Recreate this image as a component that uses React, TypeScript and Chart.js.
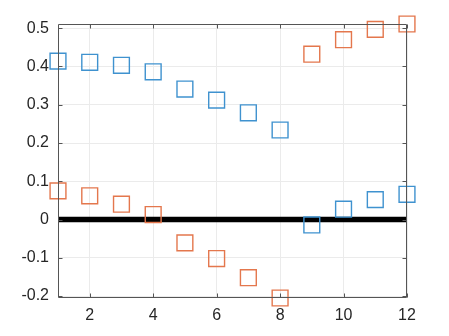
import React, { useEffect, useRef } from 'react';
import { Chart, registerables } from 'chart.js';

Chart.register(...registerables);

const xValues = [1, 2, 3, 4, 5, 6, 7, 8, 9, 10, 11, 12];
const seriesBlue = [0.414, 0.411, 0.403, 0.386, 0.341, 0.312, 0.279, 0.234, -0.014, 0.027, 0.052, 0.066];
const seriesOrange = [0.075, 0.062, 0.040, 0.013, -0.061, -0.102, -0.152, -0.205, 0.432, 0.470, 0.497, 0.511];
const zeroLineX = [1, 12];
const zeroLineY = [0, 0];
const xTicks = [2, 4, 6, 8, 10, 12];
const yTicks = [-0.2, -0.1, 0, 0.1, 0.2, 0.3, 0.4, 0.5];
const xLimits = [1, 12];
const yLimits = [-0.205, 0.511];

const BLUE = '#3f92cf';
const ORANGE = '#e4774d';
const AXIS = '#555555';
const GRID = '#ebebeb';
const FONT = { family: 'Liberation Sans', size: 16 };

const boxPlugin = {
  id: 'matlabBox',
  afterDatasetsDraw(chart: any) {
    const { ctx, chartArea } = chart;
    const { left, right, top, bottom } = chartArea;
    const xs = chart.scales.x;
    const ys = chart.scales.y;
    const tl = 4;
    ctx.save();
    ctx.strokeStyle = AXIS;
    ctx.lineWidth = 1;
    ctx.beginPath();
    const L = Math.round(left) + 0.5;
    const R = Math.round(right) - 0.5;
    const T = Math.round(top) + 0.5;
    const B = Math.round(bottom) - 0.5;
    ctx.moveTo(L, T);
    ctx.lineTo(R, T);
    ctx.lineTo(R, B);
    ctx.lineTo(L, B);
    ctx.closePath();
    for (const v of xTicks) {
      const px = Math.round(xs.getPixelForValue(v)) + 0.5;
      ctx.moveTo(px, B);
      ctx.lineTo(px, B - tl);
      ctx.moveTo(px, T);
      ctx.lineTo(px, T + tl);
    }
    for (const v of yTicks) {
      const py = Math.round(ys.getPixelForValue(v)) + 0.5;
      ctx.moveTo(L, py);
      ctx.lineTo(L + tl, py);
      ctx.moveTo(R, py);
      ctx.lineTo(R - tl, py);
    }
    ctx.stroke();
    ctx.restore();
  },
};

export default function App() {
  const ref = useRef<HTMLCanvasElement | null>(null);
  useEffect(() => {
    if (!ref.current) return;
    const chart = new Chart(ref.current, {
      type: 'scatter',
      data: {
        datasets: [
          {
            label: 'blue',
            data: xValues.map((x, i) => ({ x, y: seriesBlue[i] })),
            pointStyle: 'rect',
            pointRadius: 11.2,
            pointBorderWidth: 1.4,
            borderColor: BLUE,
            backgroundColor: 'rgba(0,0,0,0)',
            clip: false as any,
            order: 1,
          },
          {
            label: 'orange',
            data: xValues.map((x, i) => ({ x, y: seriesOrange[i] })),
            pointStyle: 'rect',
            pointRadius: 11.2,
            pointBorderWidth: 1.4,
            borderColor: ORANGE,
            backgroundColor: 'rgba(0,0,0,0)',
            clip: false as any,
            order: 2,
          },
          {
            label: 'zero',
            data: zeroLineX.map((x, i) => ({ x, y: zeroLineY[i] })),
            showLine: true,
            pointRadius: 0,
            borderColor: '#000000',
            borderWidth: 5.5,
            borderCapStyle: 'butt',
            order: 10,
          } as any,
        ],
      },
      options: {
        responsive: false,
        animation: false,
        events: [],
        layout: { padding: { left: 0, top: 24, right: 42, bottom: 0 } },
        plugins: { legend: { display: false }, tooltip: { enabled: false } },
        scales: {
          x: {
            type: 'linear',
            min: xLimits[0],
            max: xLimits[1],
            afterBuildTicks: (s: any) => {
              s.ticks = xTicks.map((v) => ({ value: v }));
            },
            afterFit: (s: any) => {
              s.height = 38;
            },
            grid: { color: GRID, drawTicks: false },
            border: { display: false },
            ticks: {
              color: '#262626',
              font: FONT,
              padding: 8,
              maxRotation: 0,
              autoSkip: false,
              callback: (v: any) => String(v),
            },
          },
          y: {
            type: 'linear',
            min: yLimits[0],
            max: yLimits[1],
            afterBuildTicks: (s: any) => {
              s.ticks = yTicks.map((v) => ({ value: v }));
            },
            afterFit: (s: any) => {
              s.width = 58;
            },
            grid: { color: GRID, drawTicks: false },
            border: { display: false },
            ticks: {
              color: '#262626',
              font: FONT,
              padding: 9,
              autoSkip: false,
              callback: (v: any) => (Math.abs(v) < 1e-9 ? '0' : Number(v).toFixed(1)),
            },
          },
        },
      },
      plugins: [boxPlugin],
    } as any);
    return () => chart.destroy();
  }, []);
  return (
    <div style={{ position: 'absolute', left: 0, top: 0, width: 449, height: 336, background: '#ffffff' }}>
      <canvas ref={ref} width={449} height={336} style={{ display: 'block' }} />
    </div>
  );
}
